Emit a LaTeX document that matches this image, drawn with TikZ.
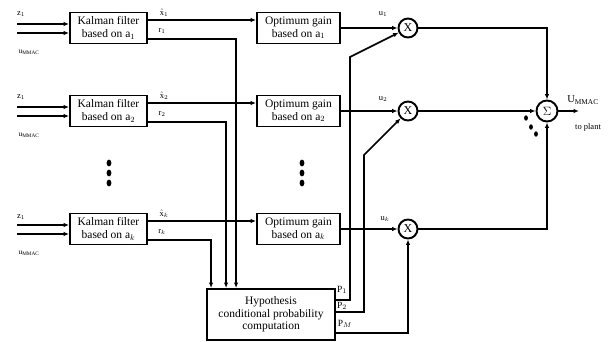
\documentclass[tikz,border=0pt]{standalone}
\usepackage{fontspec}
\setmainfont{Liberation Serif}
\usetikzlibrary{arrows.meta, positioning}
\def\rowA{28}
\def\rowB{111}
\def\rowK{229}
\def\kx{108.5}
\def\gx{298.5}
\def\mx{408}
\newcommand{\stackdots}[2]{%
% #1 = x, #2 = y of the top dot
\fill (#1,#2) ellipse [x radius=2.4pt, y radius=3.4pt];
\fill (#1,#2+10) ellipse [x radius=2.4pt, y radius=3.4pt];
\fill (#1,#2+20) ellipse [x radius=2.4pt, y radius=3.4pt];
}

\begin{document}
\begin{tikzpicture}[
    x=1pt, y=-1pt,
    line width=1.6pt,
    >={Latex[length=5.5pt,width=4.5pt]},
    blk/.style={draw, line width=1.9pt, minimum width=77pt, minimum height=31pt,
        align=center, inner sep=1pt, font=\fontsize{11.5}{12.5}\selectfont},
    gainblk/.style={blk, minimum width=83pt},
    mult/.style={circle, draw, line width=1.9pt, minimum size=19pt, inner sep=0pt,
        font=\fontsize{12}{12}\selectfont},
    lbl/.style={inner sep=0pt, font=\fontsize{8.5}{9}\selectfont}
]
\useasboundingbox (0,0) rectangle (614,342);

% blocks
\node[blk] (kf1) at (\kx,\rowA) {Kalman filter\\based on a$_1$};
\node[blk] (kf2) at (\kx,\rowB) {Kalman filter\\based on a$_2$};
\node[blk] (kfk) at (\kx,\rowK) {Kalman filter\\based on a$_k$};
\node[gainblk] (og1) at (\gx,\rowA) {Optimum gain\\based on a$_1$};
\node[gainblk] (og2) at (\gx,\rowB) {Optimum gain\\based on a$_2$};
\node[gainblk] (ogk) at (\gx,\rowK) {Optimum gain\\based on a$_k$};
\node[mult] (m1) at (\mx,\rowA) {X};
\node[mult] (m2) at (\mx,\rowB) {X};
\node[mult] (mk) at (\mx,\rowK) {X};
\node[mult, minimum size=21pt] (sum) at (547,\rowB) {$\Sigma$};
\node[blk, minimum width=128pt, minimum height=51pt] (hyp) at (271,314.5)
    {Hypothesis\\conditional probability\\computation};

% inputs
\coordinate (z1) at (17,\rowA-4);
\coordinate (u1) at (17,\rowA+5);
\coordinate (z2) at (17,\rowB-4);
\coordinate (u2) at (17,\rowB+5);
\coordinate (zk) at (17,\rowK-4);
\coordinate (uk) at (17,\rowK+5);
\draw[->] (z1) -- (z1 -| kf1.west);
\draw[->] (u1) -- (u1 -| kf1.west);
\draw[->] (z2) -- (z2 -| kf2.west);
\draw[->] (u2) -- (u2 -| kf2.west);
\draw[->] (zk) -- (zk -| kfk.west);
\draw[->] (uk) -- (uk -| kfk.west);
\node[lbl] (zl1) at (21,\rowA-14) {z$_1$};
\node[lbl, font=\fontsize{7.5}{8}\selectfont] (ul1) at (29,\rowA+24) {u\textsubscript{MMAC}};
\node[lbl] (zl2) at (21,\rowB-14) {z$_1$};
\node[lbl, font=\fontsize{7.5}{8}\selectfont] (ul2) at (29,\rowB+24) {u\textsubscript{MMAC}};
\node[lbl] (zlk) at (21,\rowK-12) {z$_1$};
\node[lbl, font=\fontsize{7.5}{8}\selectfont] (ulk) at (29,\rowK+24) {u\textsubscript{MMAC}};

% state estimates
\draw[->] ([yshift=8pt]kf1.east) -- ([yshift=8pt]og1.west);
\draw[->] ([yshift=8pt]kf2.east) -- ([yshift=8pt]og2.west);
\draw[->] ([yshift=8pt]kfk.east) -- ([yshift=8pt]ogk.west);
\node[lbl] (xl1) at (164,\rowA-15) {$\hat{\mathrm{x}}_1$};
\node[lbl] (xl2) at (164,\rowB-15) {$\hat{\mathrm{x}}_2$};
\node[lbl] (xlk) at (164,\rowK-15) {$\hat{\mathrm{x}}_k$};

% residuals
\draw[->] ([yshift=-11pt]kf1.east) -| ([xshift=30pt]hyp.north west);
\draw[->] ([yshift=-11pt]kf2.east) -| ([xshift=20pt]hyp.north west);
\draw[->] ([yshift=-11pt]kfk.east) -| ([xshift=5pt]hyp.north west);
\node[lbl] (rl1) at (162,\rowA+3) {r$_1$};
\node[lbl] (rl2) at (162,\rowB+3) {r$_2$};
\node[lbl] (rlk) at (162,\rowK+3) {r$_k$};

% gains
\draw[->] (og1) -- (m1);
\draw[->] (og2) -- (m2);
\draw[->] (ogk) -- (mk);
\node[lbl] (gl1) at (383,\rowA-14) {u$_1$};
\node[lbl] (gl2) at (383,\rowB-12) {u$_2$};
\node[lbl] (glk) at (385,\rowK-10) {u$_k$};

% probabilities
\coordinate (p1b) at (350,57);
\coordinate (p2b) at (364,155);
\draw[->] ([yshift=14.5pt]hyp.east) -| (p1b) -- (m1);
\draw[->] ([yshift=2.5pt]hyp.east) -| (p2b) -- (m2);
\draw[->] ([yshift=-18.5pt]hyp.east) -| (mk);
\node[lbl, font=\fontsize{9.5}{10}\selectfont] (pl1) at (342,290) {P$_1$};
\node[lbl, font=\fontsize{9.5}{10}\selectfont] (pl2) at (342,306) {P$_2$};
\node[lbl, font=\fontsize{9.5}{10}\selectfont] (plm) at (345,324) {P$_M$};

% sum
\draw[->] (m1) -| (sum);
\draw[->] (m2) -- (sum);
\draw[->] (mk) -| (sum);
\coordinate (plant) at (579,\rowB);
\draw[->] (sum) -- (plant);
\node[inner sep=0pt, font=\fontsize{10.5}{11}\selectfont] (uout) at (583,\rowB-11) {U\textsubscript{MMAC}};
\node[lbl] (tolbl) at (588,\rowB+16) {to plant};

% dots
\stackdots{109}{163}
\stackdots{302}{163}
\fill (526,118) ellipse [x radius=1.9pt, y radius=2.7pt];
\fill (531,127) ellipse [x radius=1.9pt, y radius=2.7pt];
\fill (536,134) ellipse [x radius=1.9pt, y radius=2.7pt];
\end{tikzpicture}
\end{document}
